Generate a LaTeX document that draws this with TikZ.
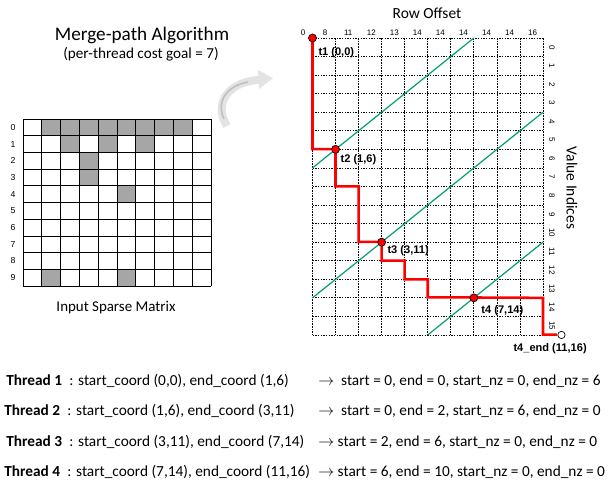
\documentclass[tikz,border=0pt]{standalone}
\usepackage{fontspec}
\setmainfont{Carlito}
\newfontfamily\arialfont{Liberation Sans}
\usepackage{tikz}
\usetikzlibrary{arrows.meta,positioning}

\definecolor{cellgray}{RGB}{166,166,166}
\definecolor{diaggreen}{RGB}{0,160,110}
\definecolor{pathred}{RGB}{255,0,0}

\pgfdeclarelayer{bg}
\pgfsetlayers{bg,main}

\tikzset{
  idx/.style={font=\arialfont\fontsize{6}{7}\selectfont, inner sep=0pt},
  ptdot/.style={circle, draw=black, fill=pathred, minimum size=6pt, inner sep=0pt, line width=0.5pt},
  ptlabel/.style={font=\arialfont\bfseries\fontsize{8.3}{10}\selectfont, inner sep=0pt},
  mpath/.style={draw=pathred, line width=1.9pt},
  diag/.style={draw=diaggreen, line width=0.9pt},
  gridline/.style={line width=0.6pt, dash pattern=on 1.2pt off 0.8pt},
  cellline/.style={line width=0.6pt},
  bodytext/.style={font=\fontsize{11.5}{13}\selectfont, anchor=west, inner sep=0pt},
}

\begin{document}
\begin{tikzpicture}[x=0.75pt,y=-0.75pt]
  \useasboundingbox (0,0) rectangle (611,482);

  \node[font=\fontsize{14.4}{17}\selectfont] (title) at (142,35) {Merge-path Algorithm};
  \node[font=\fontsize{11.4}{13}\selectfont] (goal) at (141,54) {(per-thread cost goal = 7)};
  \node[font=\fontsize{11.2}{13}\selectfont] (mlabel) at (116,308) {Input Sparse Matrix};
  \node[font=\fontsize{11.6}{13}\selectfont] (rowoff) at (427,13) {Row Offset};
  \node[font=\fontsize{11.6}{13}\selectfont, rotate=-90] (valind) at (572,188) {Value Indices};

  % sparse matrix
  \begin{scope}[shift={(23,119)}, xscale=18.8, yscale=16.7]
    \fill[cellgray] (1,0) rectangle (9,1);
    \foreach \c/\r in {2/1,4/1,6/1,3/2,3/3,5/4,1/9,5/9}
      \fill[cellgray] (\c,\r) rectangle ++(1,1);
    \foreach \c in {0,...,10} \draw[cellline] (\c,0) -- (\c,10);
    \foreach \r in {0,...,10} \draw[cellline] (0,\r) -- (10,\r);
    \foreach \r in {0,...,9}
      \node[idx, font=\arialfont\fontsize{6.5}{7}\selectfont] at (-0.53,\r+0.5) {\r};
  \end{scope}

  % curved arrow
  \draw[line width=6pt, gray!22] (227,126) .. controls (213,104) and (228,81) .. (260,80);
  \fill[gray!22] (258,70) -- (273,78) -- (259,89) -- cycle;
  \draw[line width=1.2pt, gray!50] (224,119) .. controls (216,102) and (226,86) .. (248,82);

  % merge path grid
  \begin{scope}[shift={(312.5,38)}, xscale=23.05, yscale=18.56]
    \begin{pgfonlayer}{bg}
      \foreach \c in {0,...,10} \draw[gridline] (\c,0) -- (\c,16);
      \foreach \r in {0,...,16} \draw[gridline] (0,\r) -- (10,\r);
      \draw[diag] (0,7) -- (7,0);
      \draw[diag] (0,14) -- (10,4);
      \draw[diag] (5,16) -- (10,11);
    \end{pgfonlayer}
    \node[ptdot] (t1) at (0,0) {};
    \node[ptdot] (t2) at (1,6) {};
    \node[ptdot] (t3) at (3,11) {};
    \node[ptdot] (t4) at (7,14) {};
    \node[ptdot, fill=white, minimum size=5.5pt] (t4end) at (10.8,16) {};
    \begin{pgfonlayer}{bg}
      \draw[mpath] (t1.center) |- (t2.center) |- (2,8) |- (t3.center) |- (4,12) |- (5,13) |- (t4.center) -- (10,14) |- (t4end.west);
    \end{pgfonlayer}
    \node[idx] (c0) at (-0.41,-0.27) {0};
    \foreach \v [count=\i from 0] in {8,11,12,13,14,14,14,14,14,16}
      \node[idx] at (\i+0.55,-0.27) {\v};
    \foreach \r in {0,...,15}
      \node[idx, rotate=-90] at (10.39,\r+0.5) {\r};
  \end{scope}

  \node[ptlabel, below right=4.4pt and 2pt of t1] (t1lab) {t1 (0,0)};
  \node[ptlabel, below right=1.1pt and 1.3pt of t2] (t2lab) {t2 (1,6)};
  \node[ptlabel, below right=0pt and 1.9pt of t3] (t3lab) {t3 (3,11)};
  \node[ptlabel, below right=3.1pt and 3.2pt of t4] (t4lab) {t4 (7,14)};
  \node[ptlabel, below=3pt of t4end, xshift=-8.5pt] (t4endlab) {t4\_end (11,16)};

  % thread table
  \node[bodytext] (th1) at (6,381) {\textbf{Thread 1}\hspace{5.5pt}: start\_coord (0,0), end\_coord (1,6)};
  \node[bodytext] (th2) at (4,411) {\textbf{Thread 2}\hspace{5.5pt}: start\_coord (1,6), end\_coord (3,11)};
  \node[bodytext] (th3) at (6,442) {\textbf{Thread 3}\hspace{5.5pt}: start\_coord (3,11), end\_coord (7,14)};
  \node[bodytext] (th4) at (4,472) {\textbf{Thread 4}\hspace{5.5pt}: start\_coord (7,14), end\_coord (11,16)};
  \node[bodytext] (res1) at (318,381) {$\rightarrow$\ \ start = 0, end = 0, start\_nz = 0, end\_nz = 6};
  \node[bodytext] (res2) at (318,411) {$\rightarrow$\ \ start = 0, end = 2, start\_nz = 6, end\_nz = 0};
  \node[bodytext] (res3) at (318,442) {$\rightarrow$\ start = 2, end = 6, start\_nz = 0, end\_nz = 0};
  \node[bodytext] (res4) at (318,472) {$\rightarrow$\ start = 6, end = 10, start\_nz = 0, end\_nz = 0};
\end{tikzpicture}
\end{document}
